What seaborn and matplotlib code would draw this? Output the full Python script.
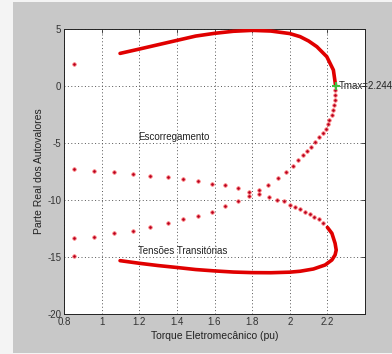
import matplotlib
matplotlib.use("Agg")
import matplotlib.pyplot as plt
import seaborn as sns
import pandas as pd
from matplotlib.patches import Rectangle

# ---- data ----
upper_solid_x = [1.098, 1.2, 1.3, 1.4, 1.5, 1.6, 1.7, 1.8, 1.9, 2.0, 2.055, 2.1, 2.144, 2.197, 2.232, 2.244]
upper_solid_y = [2.86, 3.24, 3.62, 4.0, 4.38, 4.62, 4.8, 4.88, 4.82, 4.6, 4.33, 3.95, 3.45, 2.57, 1.4, 0.0]

lower_solid_x = [1.098, 1.2, 1.3, 1.4, 1.5, 1.6, 1.7, 1.8, 1.9, 2.0, 2.055, 2.126, 2.188, 2.224, 2.241, 2.247, 2.241, 2.224, 2.2]
lower_solid_y = [-15.32, -15.55, -15.75, -15.92, -16.1, -16.22, -16.32, -16.37, -16.38, -16.33, -16.25, -16.05, -15.7, -15.26, -14.82, -14.39, -13.8, -12.92, -12.4]

branch_a_x = [2.241, 2.240, 2.238, 2.236, 2.232, 2.224, 2.211, 2.203, 2.192, 2.179, 2.158, 2.135, 2.114, 2.091,
              2.070, 2.046, 2.016, 1.979, 1.935, 1.887, 1.839, 1.784, 1.724, 1.656, 1.589, 1.514, 1.435, 1.352,
              1.259, 1.165, 1.066, 0.961, 0.853]
branch_a_y = [-0.35, -0.79, -1.23, -1.67, -2.10, -2.54, -2.98, -3.33, -3.77, -4.15, -4.50, -4.88, -5.32, -5.67,
              -6.05, -6.49, -7.02, -7.55, -8.10, -8.68, -9.15, -9.65, -10.09, -10.53, -11.03, -11.38, -11.69, -12.04,
              -12.40, -12.69, -12.92, -13.22, -13.36]

branch_b_x = [2.176, 2.153, 2.130, 2.109, 2.082, 2.055, 2.029, 2.002, 1.967, 1.932, 1.890, 1.839, 1.784, 1.724,
              1.656, 1.589, 1.514, 1.435, 1.352, 1.259, 1.165, 1.066, 0.961, 0.853]
branch_b_y = [-11.99, -11.70, -11.46, -11.23, -11.03, -10.82, -10.59, -10.44, -10.06, -9.97, -9.76, -9.47, -9.27, -8.97,
              -8.72, -8.60, -8.37, -8.18, -8.01, -7.87, -7.69, -7.54, -7.46, -7.28]

extra_x = [0.853, 0.853]
extra_y = [1.9, -14.95]

tmax_x = 2.244
tmax_y = 0.0

x_ticks = [0.8, 1.0, 1.2, 1.4, 1.6, 1.8, 2.0, 2.2]
x_tick_labels = ["0.8", "1", "1.2", "1.4", "1.6", "1.8", "2", "2.2"]
y_ticks = [-20, -15, -10, -5, 0, 5]
y_tick_labels = ["-20", "-15", "-10", "-5", "0", "5"]

# ---- figure ----
sns.set_style("white")
plt.rcParams['font.family'] = ['Liberation Sans', 'DejaVu Sans']

fig = plt.figure(figsize=(3.92, 3.54), dpi=100)
fig.patch.set_facecolor("#f4f4f4")
fig.patches.append(Rectangle((13 / 392, 1 / 354), 1 - 13 / 392, 351 / 354,
                             transform=fig.transFigure, facecolor="#c8c8c8",
                             edgecolor="none", zorder=-10))
ax = fig.add_axes([64 / 392, 40 / 354, 301 / 392, 285 / 354])
ax.set_facecolor("white")

red = "#e00000"
dot = "#b00020"

up = pd.DataFrame({"x": upper_solid_x, "y": upper_solid_y})
lo = pd.DataFrame({"x": lower_solid_x, "y": lower_solid_y})
sns.lineplot(data=up, x="x", y="y", sort=False, estimator=None, color=red, lw=2.6, ax=ax, zorder=3)
sns.lineplot(data=lo, x="x", y="y", sort=False, estimator=None, color=red, lw=2.6, ax=ax, zorder=3)

dots = pd.DataFrame({"x": branch_a_x + branch_b_x + extra_x,
                     "y": branch_a_y + branch_b_y + extra_y})
sns.scatterplot(data=dots, x="x", y="y", color=dot, s=6, edgecolor="#ff7070", linewidth=0.6, ax=ax, zorder=4)

ax.plot([tmax_x], [tmax_y], marker="+", color="#40c040", ms=6, mew=1.5, zorder=5)
ax.text(tmax_x + 0.015, tmax_y, "Tmax=2.244", fontsize=7, va="center", ha="left",
        color="#222222", clip_on=False)
ax.text(1.194, -4.5, "Escorregamento", fontsize=7, va="center", ha="left", color="#222222")
ax.text(1.194, -14.5, "Tensões Transitórias", fontsize=7, va="center", ha="left", color="#222222")

ax.set_xlim(0.8, 2.4)
ax.set_ylim(-20, 5)
ax.set_xticks(x_ticks)
ax.set_xticklabels(x_tick_labels)
ax.set_yticks(y_ticks)
ax.set_yticklabels(y_tick_labels)
ax.tick_params(direction="in", length=3, width=0.6, labelsize=7, colors="#333333",
               top=True, right=True, pad=2)
ax.grid(True, color="#555555", linestyle=(0, (1, 2.5)), linewidth=0.7)
for s in ax.spines.values():
    s.set_visible(True)
    s.set_color("#222222")
    s.set_linewidth(0.7)

ax.set_xlabel("Torque Eletromecânico (pu)", fontsize=7.5, color="#222222", labelpad=3)
ax.set_ylabel("Parte Real dos Autovalores", fontsize=7.5, color="#222222", labelpad=2)

fig.savefig("out.png", dpi=100, facecolor=fig.get_facecolor())
